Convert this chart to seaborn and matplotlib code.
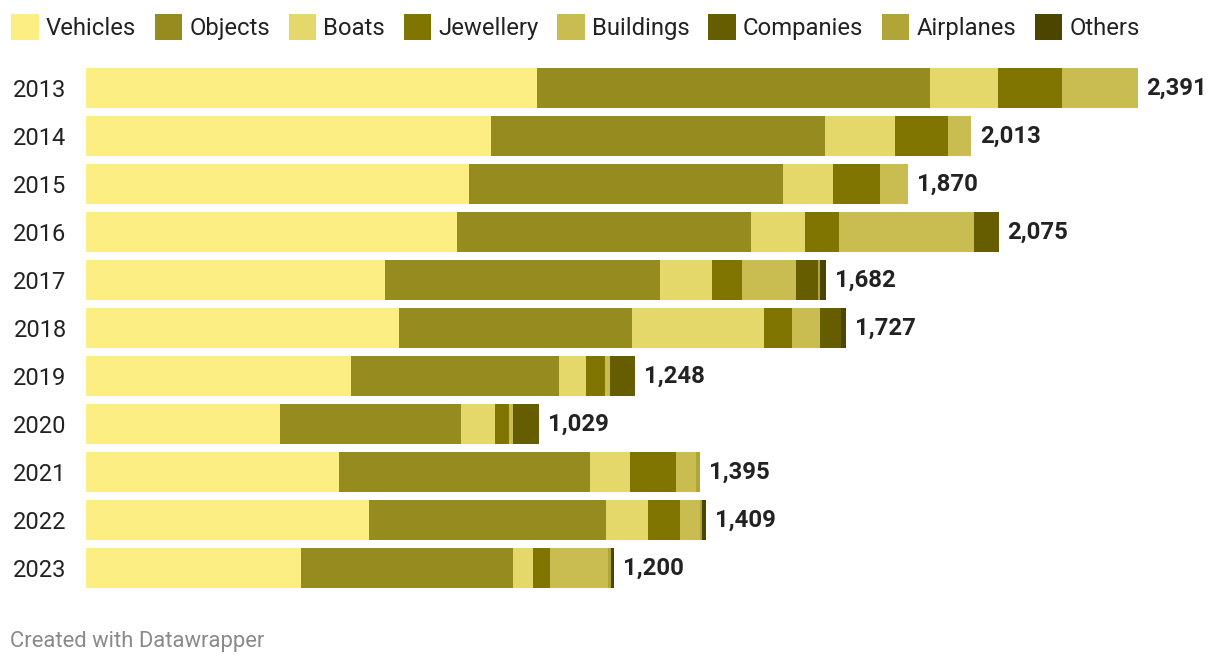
import matplotlib
matplotlib.use("Agg")
import matplotlib.pyplot as plt
import seaborn as sns
import numpy as np
import pandas as pd
from matplotlib.patches import Patch

years = ["2013", "2014", "2015", "2016", "2017", "2018", "2019", "2020", "2021", "2022", "2023"]
categories = ["Vehicles", "Objects", "Boats", "Jewellery", "Buildings", "Companies", "Airplanes", "Others"]
vehicles  = [1025, 920, 870, 843, 680, 712, 603, 440, 576, 644, 490]
objects   = [893, 761, 715, 669, 626, 530, 472, 412, 571, 539, 480]
boats     = [155, 159, 113, 123, 118, 300, 63, 78, 91, 96, 46]
jewellery = [146, 120, 107, 77, 68, 63, 41, 31, 104, 72, 40]
buildings = [172, 53, 65, 306, 122, 64, 13, 9, 45, 46, 132]
companies = [0, 0, 0, 57, 50, 47, 56, 59, 0, 0, 0]
airplanes = [0, 0, 0, 0, 5, 0, 0, 0, 8, 4, 5]
others    = [0, 0, 0, 0, 13, 11, 0, 0, 0, 8, 7]
totals    = [2391, 2013, 1870, 2075, 1682, 1727, 1248, 1029, 1395, 1409, 1200]

colors = ["#fcee83", "#968b1e", "#e4d86a", "#7f7500", "#c9bd51", "#655d00", "#b0a537", "#4b4500"]

series = [vehicles, objects, boats, jewellery, buildings, companies, airplanes, others]
df = pd.DataFrame({c: s for c, s in zip(categories, series)}, index=years)
cum = df.cumsum(axis=1)

sns.set_style("white")
plt.rcParams["font.family"] = ["Roboto", "DejaVu Sans"]

fig = plt.figure(figsize=(12.2, 6.66), dpi=100)
ax = fig.add_axes([86 / 1220, 74 / 666, 1114 / 1220, 528 / 666])

for cat, col in reversed(list(zip(categories, colors))):
    d = pd.DataFrame({"year": years, "value": cum[cat].values})
    sns.barplot(data=d, x="value", y="year", order=years, color=col, orient="h",
                width=0.833, linewidth=0, saturation=1, ax=ax, errorbar=None)

for i, (y, t) in enumerate(zip(years, totals)):
    ax.annotate(f"{t:,}", xy=(cum.loc[y].iloc[-1], i), xytext=(6.5, 0), textcoords="offset points",
                va="center", ha="left", fontsize=17.2, fontweight="bold", color="#222222")

ax.set_xlim(0, 2533)
ax.set_ylim(10.5, -0.5)
ax.set_xlabel("")
ax.set_ylabel("")
ax.set_xticks([])
ax.tick_params(axis="y", length=0, pad=14, labelsize=17, labelcolor="#222222")
for s in ax.spines.values():
    s.set_visible(False)

handles = [Patch(facecolor=c, edgecolor="none", label=l) for c, l in zip(colors, categories)]
fig.legend(handles=handles, loc="upper left", bbox_to_anchor=(4 / 1220, 1 - 7 / 666), ncol=8,
           frameon=False, fontsize=17.2, handlelength=1.15, handleheight=1.3, handletextpad=0.3,
           columnspacing=0.78, borderaxespad=0, borderpad=0.3, labelcolor="#222222")

fig.text(10 / 1220, 1 - 641 / 666, "Created with Datawrapper", fontsize=15.8, color="#8a8a8a",
         va="center", ha="left")

fig.savefig("out.png", dpi=100, facecolor="white")
